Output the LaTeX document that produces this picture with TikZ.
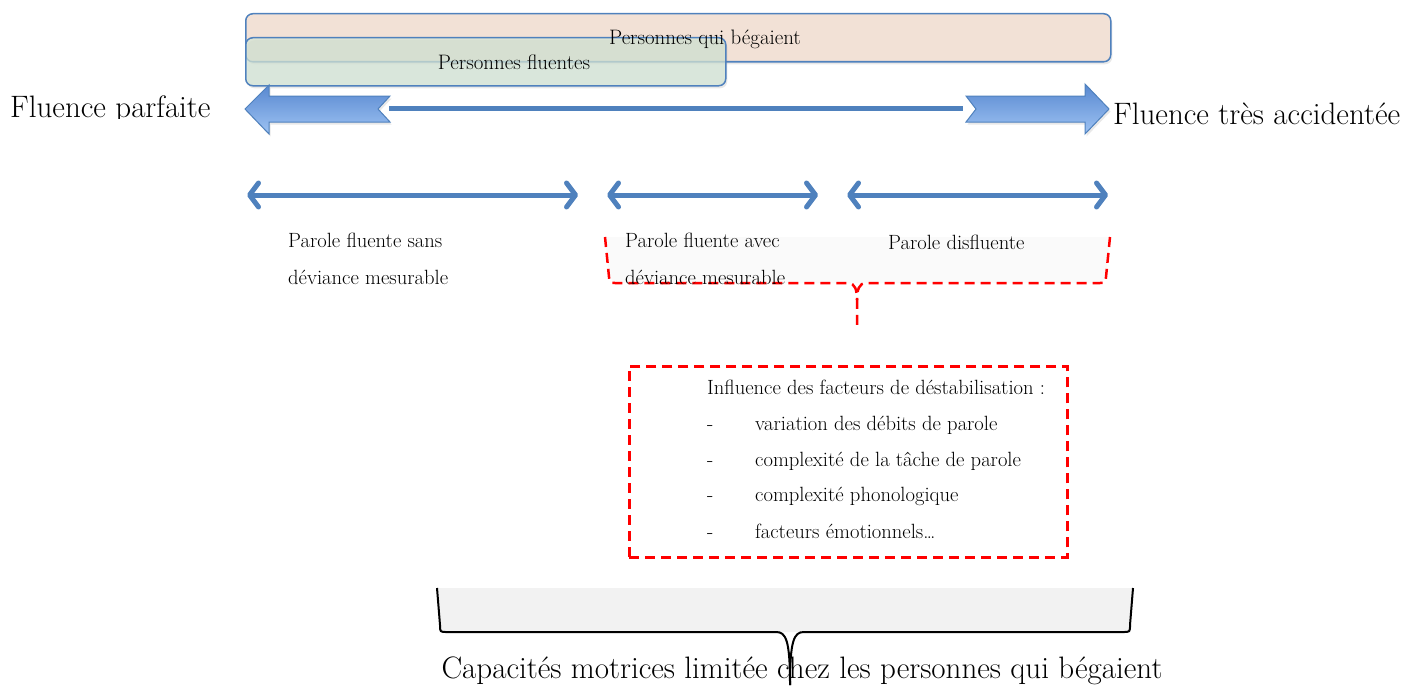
\documentclass[tikz,border=0pt]{standalone}
\usetikzlibrary{arrows.meta,shadows}
\definecolor{blueline}{RGB}{79,129,189}
\definecolor{peach}{RGB}{242,225,214}
\definecolor{mint}{RGB}{212,230,214}
\definecolor{arrowtop}{RGB}{88,136,208}
\definecolor{arrowbot}{RGB}{158,195,243}
\definecolor{dashred}{RGB}{255,0,0}
\tikzset{
  popbox/.style={draw=blueline, line width=1.5pt, rounded corners=7pt, inner sep=0pt,
    drop shadow={shadow xshift=1.5pt, shadow yshift=-2.5pt, opacity=0.18}},
  blockarrow/.style={draw=blueline, line width=1pt, top color=arrowtop, bottom color=arrowbot,
    drop shadow={shadow xshift=1.5pt, shadow yshift=-2.5pt, opacity=0.18}},
  spanarrow/.style={draw=blueline, line width=5pt, line cap=round,
    arrows={Straight Barb[length=9pt,width=24pt,line cap=round,line join=round]-Straight Barb[length=9pt,width=24pt,line cap=round,line join=round]}},
  bigtxt/.style={font=\fontsize{31}{35}\selectfont, inner sep=0pt},
  midtxt/.style={font=\fontsize{20.9}{25}\selectfont, inner sep=0pt},
  smalltxt/.style={font=\fontsize{20.6}{24}\selectfont, inner sep=0pt},
  redash/.style={draw=dashred, line width=2.5pt, dash pattern=on 10pt off 6pt},
  blackbrace/.style={draw=black, line width=2pt},
}
\begin{document}
\begin{tikzpicture}[x=1pt,y=-1pt]
\useasboundingbox (0,0) rectangle (1404,685);

% top group boxes
\node[popbox, fill=peach, minimum width=865pt, minimum height=48pt, anchor=north west] (stutbox) at (245,13) {};
\node[popbox, fill=mint, fill opacity=0.72, minimum width=480pt, minimum height=48pt, anchor=north west] (fluentbox) at (245,37) {};
\node[midtxt, anchor=base] (stuttxt) at (705,45) {Personnes qui bégaient};
\node[midtxt, anchor=base] (fluenttxt) at (514,69) {Personnes fluentes};

% main axis
\path[blockarrow] (245,109) -- (269,85) -- (269,96) -- (390,96) -- (378,109) -- (390,122) -- (269,122) -- (269,134) -- cycle;
\path[blockarrow] (966,96) -- (1085,96) -- (1085,84) -- (1109,109) -- (1085,134) -- (1085,122) -- (966,122) -- (976,109) -- cycle;
\coordinate (axisL) at (389,108.5);
\coordinate (axisR) at (963,108.5);
\draw[blueline, line width=4.5pt] (axisL) -- (axisR);

\begin{scope}
\clip (0,80) rectangle (240,118.5);
\node[bigtxt, anchor=base west] (perfect) at (10,117) {Fluence parfaite};
\end{scope}
\node[bigtxt, anchor=base west] (rough) at (1113,124) {Fluence très accidentée};

% three ranges
\coordinate (r1a) at (247,195); \coordinate (r1b) at (578,195);
\coordinate (r2a) at (607,195); \coordinate (r2b) at (818,195);
\coordinate (r3a) at (847,195); \coordinate (r3b) at (1108,195);
\draw[spanarrow] (r1a) -- (r1b);
\draw[spanarrow] (r2a) -- (r2b);
\draw[spanarrow] (r3a) -- (r3b);

% red brace under the two right ranges
\fill[black!2] (605,237) -- (609,277) -- (615,283) -- (1100,283) -- (1106,277) -- (1110,237) -- cycle;
\coordinate (braceTip) at (857,330);
\draw[redash] (605,237) -- (609,277) .. controls (609.5,283) .. (615,283) -- (848,283) .. controls (855,283) and (857,290) .. (857,300) -- (braceTip);
\draw[redash] (1110,237) -- (1106,277) .. controls (1105.5,283) .. (1100,283) -- (866,283) .. controls (859,283) and (857,290) .. (857,300);

\node[smalltxt, anchor=base west] (l1a) at (288,247) {Parole fluente sans};
\node[smalltxt, anchor=base west] (l1b) at (288,284) {déviance mesurable};
\node[smalltxt, anchor=base west] (l2a) at (625,247) {Parole fluente avec};
\node[smalltxt, anchor=base west] (l2b) at (625,284) {déviance mesurable};
\node[smalltxt, anchor=base west] (l3) at (888,249) {Parole disfluente};

% factors box
\node[redash, minimum width=438pt, minimum height=191pt, anchor=north west, inner sep=0pt] (factors) at (628,365) {};
\node[smalltxt, anchor=base west] (fhead) at (707,394) {Influence des facteurs de déstabilisation :};
\node[smalltxt, anchor=base west] (d1) at (707,430) {-};
\node[smalltxt, anchor=base west] (f1) at (755,430) {variation des débits de parole};
\node[smalltxt, anchor=base west] (d2) at (707,466) {-};
\node[smalltxt, anchor=base west] (f2) at (755,466) {complexité de la tâche de parole};
\node[smalltxt, anchor=base west] (d3) at (707,501) {-};
\node[smalltxt, anchor=base west] (f3) at (755,501) {complexité phonologique};
\node[smalltxt, anchor=base west] (d4) at (707,538) {-};
\node[smalltxt, anchor=base west] (f4) at (755,538) {facteurs émotionnels…};

% bottom brace
\fill[black!5] (437,588) -- (440,625) .. controls (440,632) .. (447,632) -- (1123,632) .. controls (1130,632) .. (1130,625) -- (1133,588) -- cycle;
\node[bigtxt, anchor=base] (motor) at (802,678) {Capacités motrices limitée chez les personnes qui bégaient};
\coordinate (braceBot) at (790,685);
\draw[blackbrace] (437,588) -- (440,625) .. controls (440,632) .. (447,632) -- (776,632) .. controls (786,632) and (790,640) .. (braceBot);
\draw[blackbrace] (1133,588) -- (1130,625) .. controls (1130,632) .. (1123,632) -- (804,632) .. controls (794,632) and (790,640) .. (braceBot);
\end{tikzpicture}
\end{document}
